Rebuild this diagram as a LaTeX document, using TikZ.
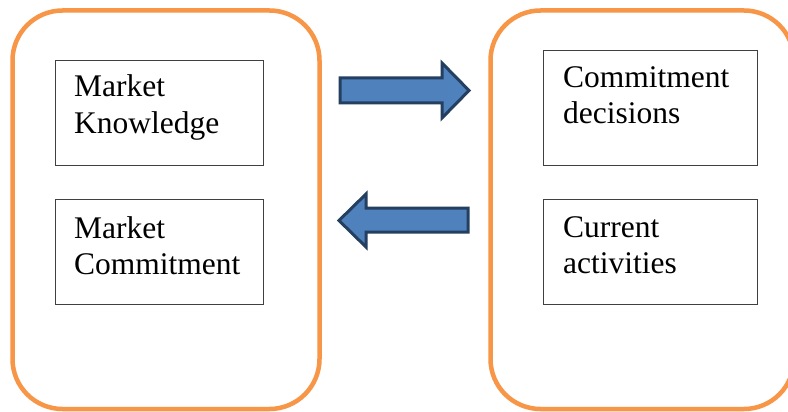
\documentclass[tikz,border=0pt]{standalone}
\usepackage{fontspec}
\setmainfont{Liberation Serif}
\definecolor{orangeb}{HTML}{F79646}
\definecolor{arrfill}{HTML}{4F81BD}
\definecolor{arrline}{HTML}{243F60}
\definecolor{boxline}{HTML}{404040}
\tikzset{
  outer/.style={draw=orangeb, line width=4.5pt, rounded corners=50pt},
  inbox/.style={draw=boxline, line width=1.2pt, fill=white},
  lbl/.style={anchor=base west, align=left, inner sep=0pt, font=\fontsize{31.5}{36}\selectfont},
  blockarrow/.style={draw=arrline, fill=arrfill, line width=3pt, line join=miter}
}
\begin{document}
\begin{tikzpicture}[x=1pt,y=-1pt]
\useasboundingbox (0,0) rectangle (788,412);
\clip (0,0) rectangle (788,412);
\fill[white] (0,0) rectangle (788,412);
% outer rounded containers
\draw[outer] (12.5,10.5) rectangle (319.5,409);
\draw[outer] (490.5,10.5) rectangle (794,409);
% inner boxes
\node[inbox, minimum width=208pt, minimum height=105pt, anchor=north west] (mk) at (54.5,60) {};
\node[inbox, minimum width=208pt, minimum height=105pt, anchor=north west] (mc) at (54.5,199) {};
\node[inbox, minimum width=214pt, minimum height=115pt, anchor=north west] (cd) at (543,50) {};
\node[inbox, minimum width=214pt, minimum height=105pt, anchor=north west] (ca) at (543,199) {};
% labels (base anchor = last line baseline)
\node[lbl] (tmk) at (74,133) {Market\\Knowledge};
\node[lbl] (tmc) at (74,274) {Market\\Commitment};
\node[lbl] (tcd) at (563,124) {Commitment\\decisions};
\node[lbl] (tca) at (563,273) {Current\\activities};
% block arrows
\draw[blockarrow] (340,78) -- (442,78) -- (442,63) -- (469,90.5) -- (442,118) -- (442,103) -- (340,103) -- cycle;
\draw[blockarrow] (468,208) -- (366,208) -- (366,194) -- (339,220.5) -- (366,247) -- (366,232) -- (468,232) -- cycle;
\end{tikzpicture}
\end{document}
